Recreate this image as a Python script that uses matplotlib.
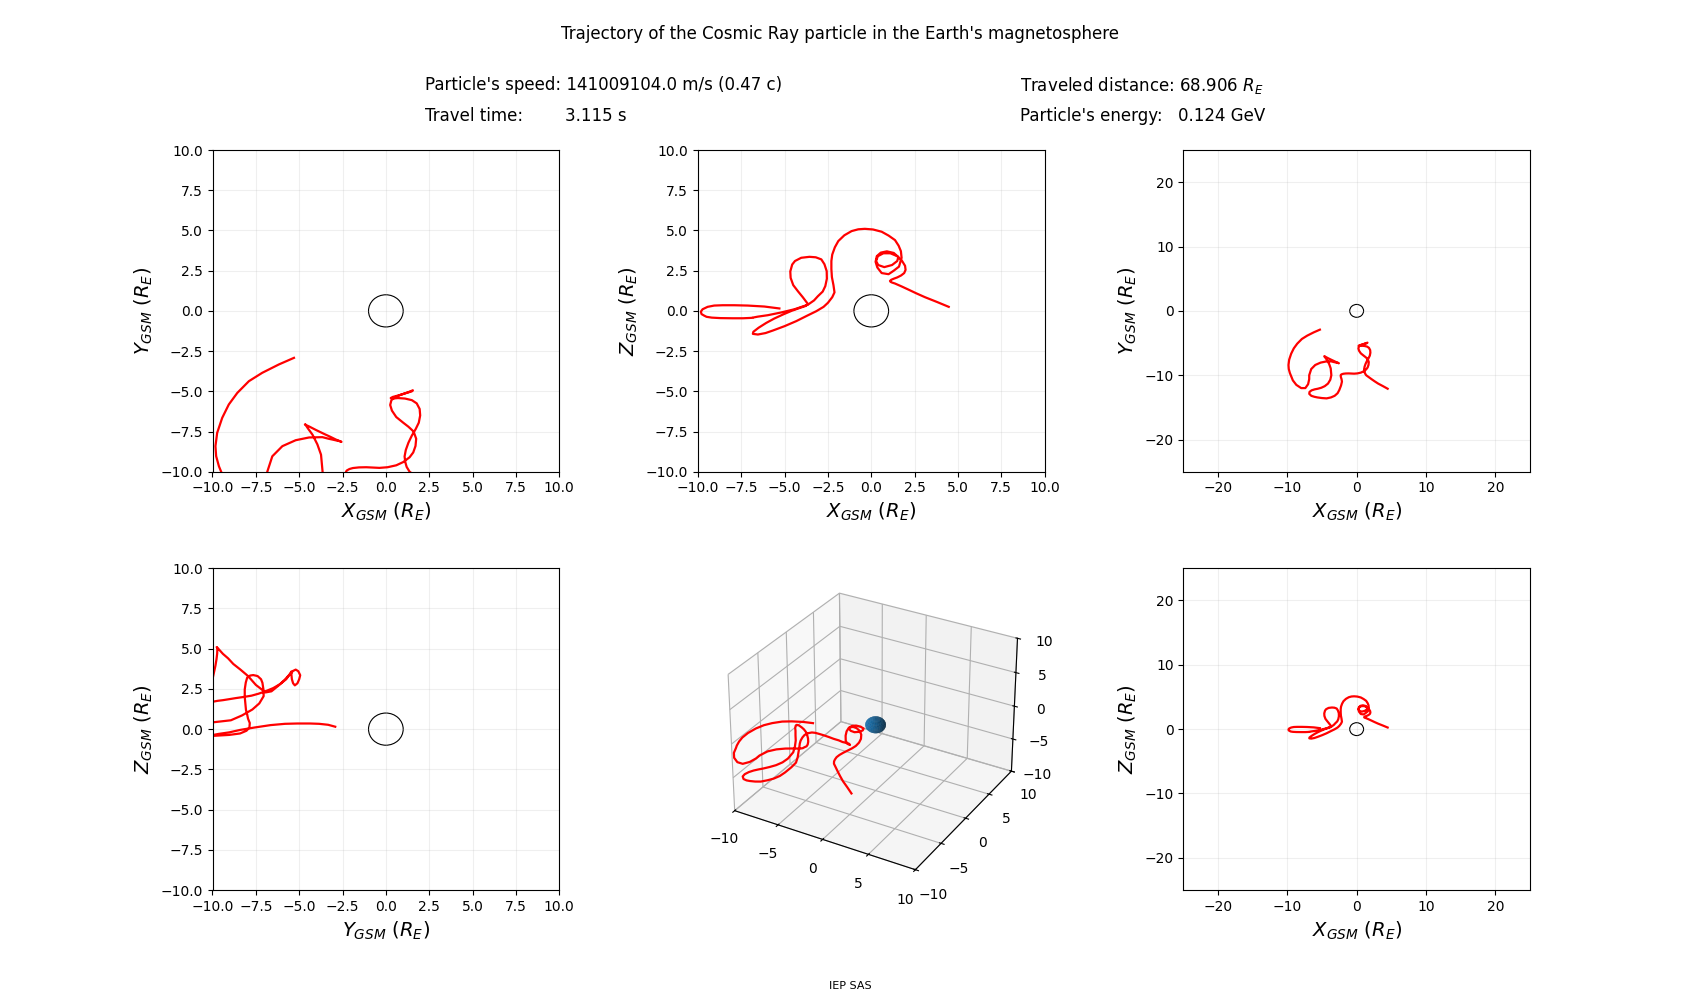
import numpy as np
from matplotlib import pyplot as plt

# particle trajectory in GSM coordinates (Earth radii)
x_traj = [-5.3, -6.17, -7.13, -7.9, -8.57, -9.06, -9.44, -9.73, -9.83, -9.79, -9.63, -9.5,
          -9.2, -8.7, -8.0, -7.4, -7.0, -6.84,
          -6.84, -6.55, -5.97, -5.2, -4.43, -3.66,
          -3.3, -3.08, -2.8, -2.65, -2.56, -2.57, -2.7, -2.88, -3.2, -3.56, -4.04, -4.4, -4.56, -4.67, -4.65, -4.5, -4.23, -3.95, -3.74,
          -3.65, -3.8, -4.13, -4.6, -5.1, -5.6, -6.06, -6.5, -6.8, -6.83,
          -6.54, -6.1, -5.67, -5.0, -4.33, -3.7, -3.17, -2.75, -2.5, -2.25,
          -2.12, -2.18, -2.27, -2.3, -2.3, -2.25, -2.1, -1.9, -1.55, -1.13,
          -0.75, -0.37, 0.1, 0.6, 1.0, 1.37, 1.58, 1.71, 1.75,
          1.6, 1.3, 1.0, 0.6, 0.35, 0.25, 0.32, 0.55, 0.9, 1.3,
          1.56, 1.5, 1.2, 0.75, 0.4, 0.28, 0.38, 0.7, 1.1, 1.5,
          1.78, 1.95, 1.98, 1.9, 1.72, 1.5, 1.3, 1.15, 1.08, 1.12,
          1.2, 1.37, 1.75, 2.13, 2.6, 3.1, 3.8, 4.47]
y_traj = [-2.92, -3.33, -3.85, -4.37, -5.1, -5.82, -6.65, -7.58, -8.41, -9.03, -9.66, -10.0,
          -10.8, -11.5, -12.0, -12.0, -11.4, -10.6,
          -10.0, -9.04, -8.41, -8.04, -7.87, -7.85,
          -7.95, -8.0, -8.07, -8.1, -8.14, -8.14, -8.08, -8.0, -7.83, -7.65, -7.4, -7.2, -7.12, -7.06, -7.05, -7.3, -7.7, -8.3, -8.94,
          -10.0, -10.7, -11.3, -11.7, -11.95, -12.1, -12.2, -12.35, -12.6, -12.9,
          -13.2, -13.35, -13.45, -13.55, -13.6, -13.45, -13.2, -12.8, -12.3, -11.6,
          -11.0, -10.6, -10.3, -10.1, -10.0, -9.92, -9.83, -9.77, -9.73, -9.72,
          -9.74, -9.76, -9.72, -9.6, -9.4, -9.1, -8.8, -8.4, -7.95,
          -7.5, -7.2, -6.95, -6.6, -6.2, -5.85, -5.55, -5.35, -5.2, -5.05,
          -4.94, -5.0, -5.1, -5.25, -5.35, -5.42, -5.45, -5.42, -5.45, -5.55,
          -5.75, -6.1, -6.5, -6.95, -7.35, -7.75, -8.2, -8.65, -9.05, -9.4,
          -9.7, -10.0, -10.3, -10.6, -10.95, -11.3, -11.7, -12.1]
z_traj = [0.15, 0.27, 0.33, 0.35, 0.35, 0.33, 0.25, 0.1, -0.05, -0.2, -0.3, -0.37,
          -0.42, -0.45, -0.46, -0.46, -0.44, -0.43,
          -0.42, -0.36, -0.27, -0.1, 0.1, 0.38,
          0.65, 0.91, 1.2, 1.54, 2.0, 2.47, 2.9, 3.2, 3.33, 3.36, 3.3, 3.1, 2.88, 2.45, 2.05, 1.6, 1.22, 0.85, 0.55,
          0.42, 0.3, 0.18, 0.0, -0.23, -0.48, -0.75, -1.05, -1.3, -1.43,
          -1.47, -1.38, -1.22, -0.95, -0.64, -0.3, -0.02, 0.25, 0.5, 0.85,
          1.15, 1.6, 2.1, 2.6, 3.1, 3.5, 3.95, 4.34, 4.7, 4.96,
          5.07, 5.1, 5.06, 4.92, 4.68, 4.4, 4.05, 3.71, 3.3,
          2.75, 2.5, 2.28, 2.35, 2.7, 3.05, 3.4, 3.62, 3.7, 3.6,
          3.35, 3.1, 2.85, 2.72, 2.85, 3.1, 3.4, 3.58, 3.58, 3.4,
          3.1, 2.8, 2.55, 2.35, 2.2, 2.08, 2.0, 1.93, 1.86, 1.8,
          1.76, 1.7, 1.52, 1.33, 1.09, 0.85, 0.55, 0.25]

speed = "141009104.0 m/s (0.47 c)"
travel_time = "3.115 s"
distance = "68.906"
energy = "0.124 GeV"

x_lab = "$X_{GSM}$ ($R_E$)"
y_lab = "$Y_{GSM}$ ($R_E$)"
z_lab = "$Z_{GSM}$ ($R_E$)"

fig = plt.figure(figsize = (17, 10), dpi = 100)
fig.subplots_adjust(left = 0.125, right = 0.9, bottom = 0.11, top = 0.85, wspace = 0.4, hspace = 0.3)

fig.text(0.494, 0.966, "Trajectory of the Cosmic Ray particle in the Earth's magnetosphere", ha = "center", va = "center", fontsize = 12)
fig.text(0.25, 0.9145, f"Particle's speed: {speed}", va = "center", fontsize = 12)
fig.text(0.25, 0.884, "Travel time:", va = "center", fontsize = 12)
fig.text(0.3323, 0.884, travel_time, va = "center", fontsize = 12)
fig.text(0.6, 0.9145, f"Traveled distance: {distance} $R_E$", va = "center", fontsize = 12)
fig.text(0.6, 0.884, "Particle's energy:", va = "center", fontsize = 12)
fig.text(0.6932, 0.884, energy, va = "center", fontsize = 12)
fig.text(0.5, 0.014, "IEP SAS", ha = "center", va = "center", fontsize = 8)

panels = [
    (1, x_traj, y_traj, x_lab, y_lab, 10),
    (2, x_traj, z_traj, x_lab, z_lab, 10),
    (3, x_traj, y_traj, x_lab, y_lab, 25),
    (4, y_traj, z_traj, y_lab, z_lab, 10),
    (6, x_traj, z_traj, x_lab, z_lab, 25),
]

for pos, h, v, hl, vl, lim in panels:
    ax = fig.add_subplot(2, 3, pos)
    ax.plot(h, v, color = "red", linewidth = 1.6)
    ax.add_patch(plt.Circle((0, 0), 1, fill = False, color = "black", linewidth = 0.8))
    ax.set_xlim(-lim, lim)
    ax.set_ylim(-lim, lim)
    ax.set_xlabel(hl, fontsize = 14)
    ax.set_ylabel(vl, fontsize = 14)
    ax.grid(True, alpha = 0.2)

# 3D view with the Earth as a unit sphere
ax3 = fig.add_subplot(2, 3, 5, projection = "3d")
ax3.plot(x_traj, y_traj, z_traj, color = "red", linewidth = 1.6)
u, v = np.mgrid[0:2 * np.pi:30j, 0:np.pi:20j]
ax3.plot_surface(np.cos(u) * np.sin(v), np.sin(u) * np.sin(v), np.cos(v))
ax3.set_xlim(-10, 10)
ax3.set_ylim(-10, 10)
ax3.set_zlim(-10, 10)

plt.savefig("out.png")
plt.close()
